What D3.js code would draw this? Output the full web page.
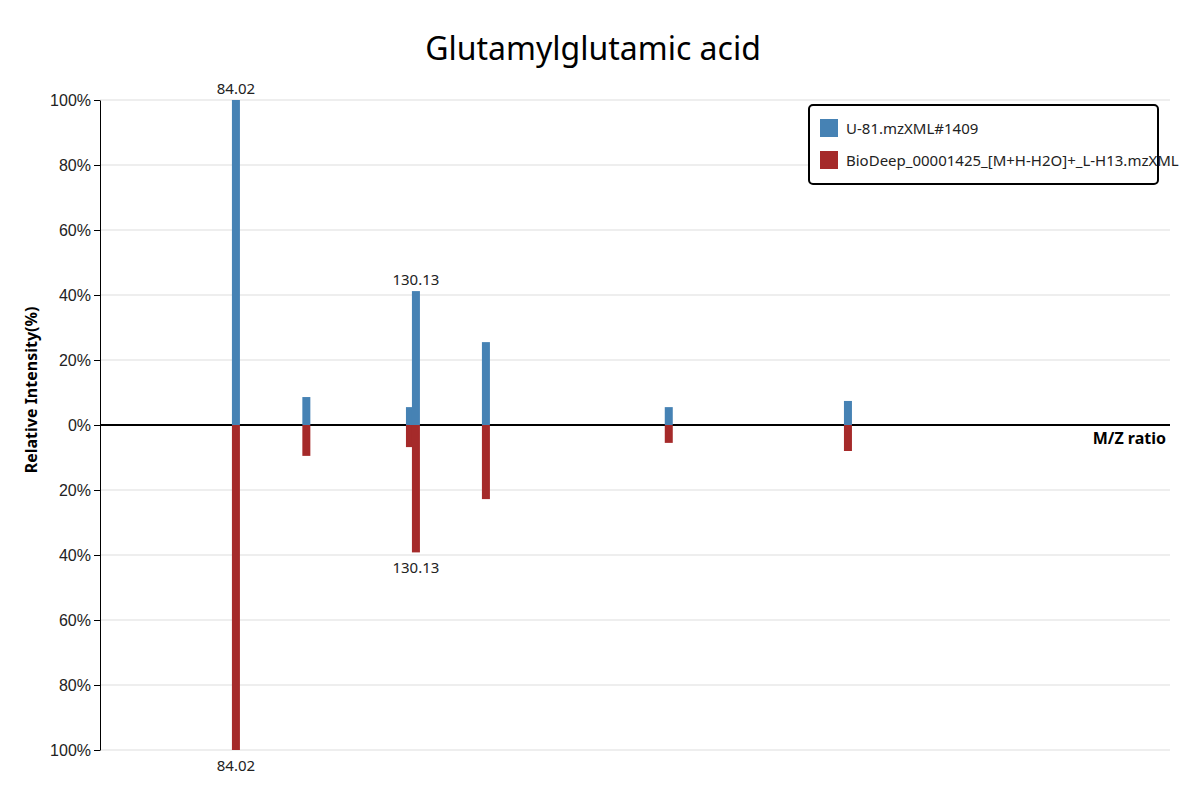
<!DOCTYPE html>
<html><head><meta charset="utf-8">
<script src="https://cdn.jsdelivr.net/npm/d3@7"></script>
<style>body{margin:0;background:#fff;font-family:"Noto Sans",sans-serif;overflow:hidden}</style>
</head><body><div id="chart"></div>
<script>
var title = "Glutamylglutamic acid";
var seriesNames = ["U-81.mzXML#1409", "BioDeep_00001425_[M+H-H2O]+_L-H13.mzXML"];
var mz = [84.02, 102.06, 128.6, 130.13, 148.06, 194.9, 240.8];
var sampleInt = [100, 8.6, 5.5, 41.2, 25.5, 5.5, 7.4];
var refInt = [100, 9.5, 6.8, 39.2, 22.8, 5.5, 8.0];
var labelled = [84.02, 130.13];
var yTicks = [100, 80, 60, 40, 20, 0, -20, -40, -60, -80, -100];

var svg = d3.select("#chart").append("svg").attr("width", 1200).attr("height", 800);
var margin = {top: 100, left: 100, right: 30, bottom: 50};
var width = 1200 - margin.left - margin.right, height = 800 - margin.top - margin.bottom;
var g = svg.append("g").attr("transform", `translate(${margin.left},${margin.top})`);

var x = d3.scaleLinear().domain([49.2, 323.3]).range([0, width]);
var y = d3.scaleLinear().domain([-100, 100]).range([height, 0]);

svg.append("text").attr("x", 593).attr("y", 60).attr("text-anchor", "middle")
  .attr("font-size", 32).text(title);

// grid
g.selectAll(".grid").data(yTicks).enter().append("line")
  .attr("x1", 0).attr("x2", width).attr("y1", d => y(d)).attr("y2", d => y(d))
  .attr("stroke", "#ddd");

var yAxis = g.append("g").call(d3.axisLeft(y).tickValues(yTicks).tickFormat(d => Math.abs(d) + "%").tickSizeOuter(0));
yAxis.selectAll("text").attr("font-size", 16).attr("fill", "#222");
yAxis.select(".domain").attr("stroke", "#000");

g.append("line").attr("x1", 0).attr("x2", width).attr("y1", y(0)).attr("y2", y(0))
  .attr("stroke", "#000").attr("stroke-width", 2);

var bw = 8;
var idx = d3.range(mz.length);
g.selectAll(".up").data(idx).enter().append("rect")
  .attr("x", i => x(mz[i]) - bw / 2).attr("width", bw)
  .attr("y", i => y(sampleInt[i])).attr("height", i => y(0) - y(sampleInt[i]))
  .attr("fill", "steelblue");
g.selectAll(".down").data(idx).enter().append("rect")
  .attr("x", i => x(mz[i]) - bw / 2).attr("width", bw)
  .attr("y", y(0)).attr("height", i => y(-refInt[i]) - y(0))
  .attr("fill", "#a52a2a");

var lab = idx.filter(i => labelled.indexOf(mz[i]) >= 0);
g.selectAll(".lu").data(lab).enter().append("text")
  .attr("x", i => x(mz[i])).attr("y", i => y(sampleInt[i]) - 6)
  .attr("text-anchor", "middle").attr("font-size", 15).attr("fill", "#222")
  .text(i => mz[i].toFixed(2));
g.selectAll(".ld").data(lab).enter().append("text")
  .attr("x", i => x(mz[i])).attr("y", i => y(-refInt[i]) + 21)
  .attr("text-anchor", "middle").attr("font-size", 15).attr("fill", "#222")
  .text(i => mz[i].toFixed(2));

svg.append("text").attr("x", 1166).attr("y", 444).attr("text-anchor", "end")
  .attr("font-size", 16).attr("font-weight", "bold").text("M/Z ratio");
svg.append("text").attr("transform", "translate(37,390) rotate(-90)").attr("text-anchor", "middle")
  .attr("font-size", 16).attr("font-weight", "bold").text("Relative Intensity(%)");

// legend (text runs past the box, as in the original)
var leg = svg.append("g");
leg.append("rect").attr("x", 809).attr("y", 105).attr("width", 349).attr("height", 79)
  .attr("rx", 4).attr("fill", "#fff").attr("stroke", "#000").attr("stroke-width", 2);
[ "steelblue", "#a52a2a" ].forEach(function(c, i) {
  leg.append("rect").attr("x", 820).attr("y", 119 + i * 32).attr("width", 18).attr("height", 18).attr("fill", c);
  leg.append("text").attr("x", 846).attr("y", 134 + i * 32).attr("font-size", 15).attr("fill", "#222").text(seriesNames[i]);
});
</script></body></html>
